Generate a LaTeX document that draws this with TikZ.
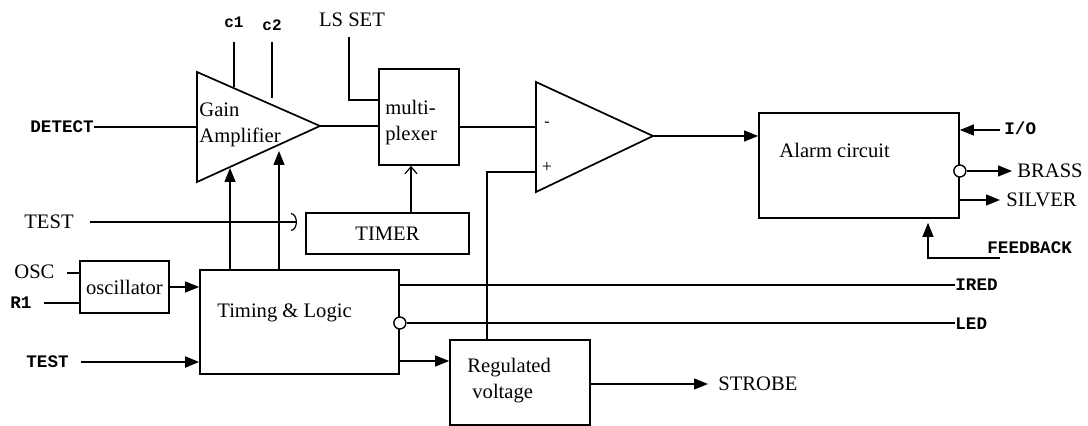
\documentclass[tikz,border=0pt]{standalone}
\usepackage{fontspec}
\setmainfont{Liberation Serif}
\newfontfamily\monob{Liberation Mono}
\usetikzlibrary{arrows.meta}
\tikzset{
  box/.style={draw, line width=0.85pt, inner sep=0pt},
  wire/.style={line width=0.6pt},
  arr/.style={wire, -{Triangle[length=7pt,width=5.5pt]}},
  lbl/.style={inner sep=0pt, font=\fontsize{10.3}{13}\selectfont},
  mlbl/.style={inner sep=0pt, font=\monob\bfseries\fontsize{8.8}{10}\selectfont},
  bubble/.style={draw, circle, line width=0.7pt, fill=white, minimum size=6pt, inner sep=0pt},
}
\begin{document}
\begin{tikzpicture}[x=0.5pt,y=-0.5pt]
\useasboundingbox (0,0) rectangle (1088,426);
% ---- blocks
\node[box, minimum width=40pt, minimum height=48pt] (mux) at (419,117) {};
\node[lbl, anchor=west, align=left] (muxt) at (385,123) {multi-\\plexer};
\node[box, minimum width=81.5pt, minimum height=20.5pt, lbl] (timer) at (387.5,233.5) {TIMER};
\node[box, minimum width=44.5pt, minimum height=26pt, lbl] (osc) at (124.5,287) {oscillator};
\node[box, minimum width=99.5pt, minimum height=52pt] (tl) at (299.5,322) {};
\node[lbl, anchor=west] (tlt) at (217,313) {Timing \& Logic};
\node[box, minimum width=70pt, minimum height=42.5pt] (reg) at (520,382.5) {};
\node[lbl, anchor=west, align=left] (regt) at (467,381) {Regulated\\\hspace{2.5pt}voltage};
\node[box, minimum width=100pt, minimum height=52.5pt] (alarm) at (859,165.5) {};
\node[lbl, anchor=west] (alarmt) at (779,150) {Alarm circuit};
% ---- gain amplifier
\coordinate (gatl) at (197,72);
\coordinate (gabl) at (197,182);
\coordinate (gatip) at (320,126);
\draw[line width=0.85pt] (gatl) -- (gatip) -- (gabl) -- cycle;
\node[lbl, anchor=west, align=left] (gat) at (199,125) {Gain\\Amplifier};
% ---- comparator
\coordinate (cotl) at (536,82);
\coordinate (cobl) at (536,192);
\coordinate (cotip) at (653,136);
\draw[line width=0.85pt] (cotl) -- (cotip) -- (cobl) -- cycle;
\node[lbl, font=\fontsize{8}{9}\selectfont] (cminus) at (547,124) {-};
\node[lbl, font=\fontsize{9}{10}\selectfont] (cplus) at (547,167) {+};
% ---- labels
\node[mlbl, anchor=west] (detect) at (30,127) {DETECT};
\node[mlbl, font=\monob\bfseries\fontsize{8}{9}\selectfont] (c1) at (234,22) {c1};
\node[mlbl, font=\monob\bfseries\fontsize{8}{9}\selectfont] (c2) at (272,25) {c2};
\node[lbl] (lsset) at (352,20) {LS SET};
\node[lbl, anchor=west] (test1) at (24,222) {TEST};
\node[lbl, anchor=west] (osclbl) at (14,272) {OSC};
\node[mlbl, anchor=west] (r1) at (10,303) {R1};
\node[mlbl, anchor=west] (test2) at (26,362) {TEST};
\node[mlbl, anchor=west] (io) at (1004,128) {I/O};
\node[lbl, anchor=west] (brass) at (1017,171) {BRASS};
\node[lbl, anchor=west] (silver) at (1006,200) {SILVER};
\node[mlbl, anchor=west] (feedback) at (987,248) {FEEDBACK};
\node[mlbl, anchor=west] (ired) at (955,285) {IRED};
\node[mlbl, anchor=west] (led) at (955,324) {LED};
\node[lbl, anchor=west] (strobe) at (718,384) {STROBE};
% ---- connectors
\draw[wire] (detect.east) -- (gabl |- detect.east);
\draw[line width=0.9pt] (234,42) coordinate (c1b) -- (234,87);
\draw[wire] (272,42) coordinate (c2b) -- (272,98);
\draw[wire] (lsset.south -| 349,0) ++(0,10) |- (mux.west |- 0,100);
\draw[wire] (gatip) -- (gatip -| mux.west);
\draw[wire] (mux.east |- 0,127) -- (cotl |- 0,127);
\draw[arr] (cotip) -- (cotip -| alarm.west);
\draw[wire] (reg.north -| 487,0) |- (cobl |- 0,172);
% timer to mux
\draw[wire, -{Straight Barb[length=3.5pt,width=6pt]}] (timer.north -| 411,0) -- (mux.south -| 411,0);
% test upper
\draw[wire, -{Arc Barb[length=3pt,width=9pt]}] ([xshift=8pt]test1.east) -- (297,222);
% tl up to gain amp
\draw[arr] (tl.north -| 230,0) -- (230,168);
\draw[arr] (tl.north -| 279,0) -- (279,151);
% oscillator
\draw[wire] ([xshift=6pt]osclbl.east |- 0,273) -- (osc.west |- 0,273);
\draw[wire] ([xshift=6pt]r1.east |- 0,303) -- (osc.west |- 0,303);
\draw[arr] (osc.east) -- (osc.east -| tl.west);
% test lower
\draw[arr, line width=0.9pt] ([xshift=6pt]test2.east) -- (test2.east -| tl.west);
% tl outputs
\draw[wire] (tl.east |- 0,285) -- (ired.west |- 0,285);
\node[bubble] (tlb) at (tl.east |- 0,323) {};
\draw[wire] (tlb.east) -- (led.west |- tlb.east);
\draw[arr] (tl.east |- 0,361) -- (reg.west |- 0,361);
\draw[arr] (reg.east |- 0,384) -- ([xshift=-5pt]strobe.west);
% alarm I/O
\draw[arr] ([xshift=-2pt]io.west |- 0,130) -- (alarm.east |- 0,130);
\node[bubble] (ab) at (alarm.east |- 0,171) {};
\draw[arr] (ab.east) -- ([xshift=-2.5pt]brass.west);
\draw[arr] (alarm.east |- 0,200) -- ([xshift=-3pt]silver.west);
\draw[arr] (1000,258) coordinate (fbs) -| ([yshift=-2pt]alarm.south -| 928,0);
\end{tikzpicture}
\end{document}
